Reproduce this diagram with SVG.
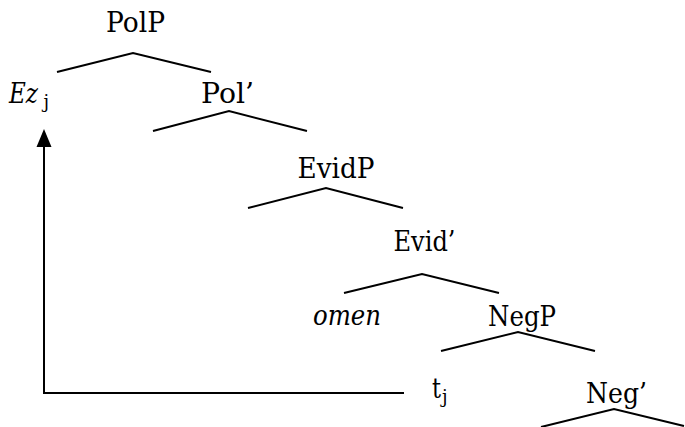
<svg xmlns="http://www.w3.org/2000/svg" width="685" height="427" viewBox="0 0 685 427">
<style>
text{font-family:'DejaVu Serif',serif;font-size:28px;fill:#000}
.it{font-style:italic}
.sub{font-size:18px;font-style:normal}
.br{fill:none;stroke:#000;stroke-width:2}
</style>
<rect width="685" height="427" fill="#fff"/>
<g id="PolP"><text x="106" y="32" textLength="59" lengthAdjust="spacingAndGlyphs">PolP</text></g>
<g id="Ez"><text class="it" x="9" y="103" textLength="29" lengthAdjust="spacingAndGlyphs">Ez</text><text class="sub" x="43.5" y="108">j</text></g>
<g id="Pol1"><text x="201" y="103" textLength="53" lengthAdjust="spacingAndGlyphs">Pol’</text></g>
<g id="EvidP"><text x="297.5" y="178" textLength="77" lengthAdjust="spacingAndGlyphs">EvidP</text></g>
<g id="Evid1"><text x="393.5" y="251" textLength="62" lengthAdjust="spacingAndGlyphs">Evid’</text></g>
<g id="omen"><text class="it" x="313" y="325" textLength="68" lengthAdjust="spacingAndGlyphs">omen</text></g>
<g id="NegP"><text x="488" y="326" textLength="68" lengthAdjust="spacingAndGlyphs">NegP</text></g>
<g id="tj"><text x="432" y="398" textLength="9" lengthAdjust="spacingAndGlyphs">t</text><text class="sub" x="442" y="403">j</text></g>
<g id="Neg1"><text x="586" y="403" textLength="61" lengthAdjust="spacingAndGlyphs">Neg’</text></g>
<g id="connectors">
<polyline class="br" points="57,72 133,53 211,72"/>
<polyline class="br" points="153,131 229,111 307,131"/>
<polyline class="br" points="248,208 326,188 403,208"/>
<polyline class="br" points="344,293 422,274 499,293"/>
<polyline class="br" points="441,351 518,332 595,351"/>
<polyline class="br" points="541,427 614,409 684,426"/>
<polyline class="br" points="404,393 44,393 44,145"/>
<polygon points="44,129 36.5,147 51.5,147" fill="#000"/>
</g>
</svg>
